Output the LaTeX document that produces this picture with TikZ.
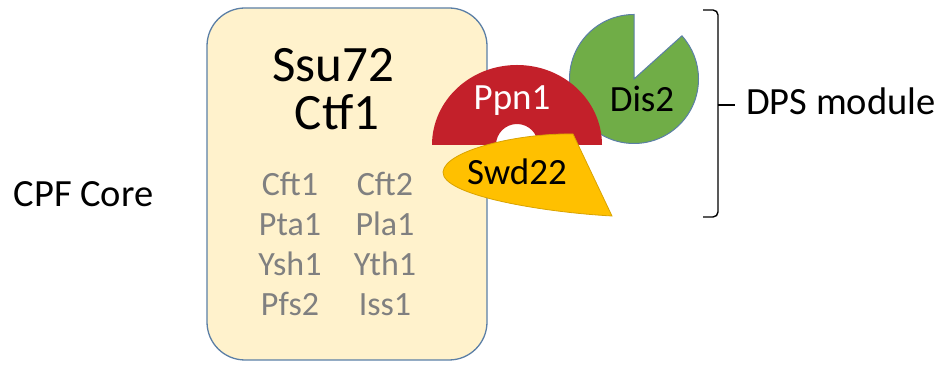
\documentclass[tikz,border=0pt]{standalone}
\usepackage{fontspec}
\setmainfont{Carlito}
\definecolor{corefill}{HTML}{FFF2CC}
\definecolor{outline}{HTML}{5B7FA6}
\definecolor{ppnred}{HTML}{C3202A}
\definecolor{disgreen}{HTML}{70AD47}
\definecolor{swdyellow}{HTML}{FFC000}
\definecolor{subgray}{HTML}{808080}
\tikzstyle{core}=[draw=outline,line width=1.3pt,fill=corefill,rounded corners=38pt]
\tikzstyle{bigname}=[anchor=base,font=\fontsize{51}{51}\selectfont]
\tikzstyle{subunit}=[anchor=base,text=subgray,font=\fontsize{34}{34}\selectfont]
\tikzstyle{sidelabel}=[anchor=base,font=\fontsize{38.5}{38.5}\selectfont]
\tikzstyle{protein}=[anchor=base,font=\fontsize{37}{37}\selectfont]
\tikzstyle{bracket}=[line width=1.4pt,rounded corners=5pt]

\begin{document}
\begin{tikzpicture}[x=1pt,y=1pt]
\useasboundingbox (0,0) rectangle (946,366);
% CPF core
\draw[core] (207,6) rectangle (487,358);
\node[bigname] (ssu) at (333,284) {Ssu72};
\node[bigname] (ctf) at (337,236) {Ctf1};
\node[subunit] (cft1) at (290,170) {Cft1};
\node[subunit] (cft2) at (385,170) {Cft2};
\node[subunit] (pta1) at (290,130) {Pta1};
\node[subunit] (pla1) at (385,130) {Pla1};
\node[subunit] (ysh1) at (290,90) {Ysh1};
\node[subunit] (yth1) at (385,90) {Yth1};
\node[subunit] (pfs2) at (290,50) {Pfs2};
\node[subunit] (iss1) at (385,50) {Iss1};
\node[sidelabel] (cpf) at (83.5,159) {CPF Core};
% DPS module
\draw[draw=outline,line width=1pt,fill=disgreen]
    (634,287) -- ++(90:64.5) arc[start angle=90,end angle=402,radius=64.5] -- cycle;
\node[protein] (dis2) at (642,254) {Dis2};
\fill[ppnred] (432,221) arc[start angle=180,end angle=0,x radius=85,y radius=80]
    -- (538,221) arc[start angle=0,end angle=180,radius=21] -- cycle;
\node[protein,text=white] (ppn1) at (512,256) {Ppn1};
\draw[draw=swdyellow!85!black,line width=0.8pt,fill=swdyellow]
    (573,232) .. controls (520,233) and (445,216) .. (443,194)
    .. controls (442,171) and (540,154) .. (612,150) -- cycle;
\node[protein] (swd22) at (517,181) {Swd22};
% bracket
\coordinate (bt) at (703,356);
\coordinate (bm) at (735,261);
\coordinate (bb) at (703,149);
\draw[bracket] (bt) -- (718,356) -- (718,261);
\draw[bracket] (718,261) -- (718,149) -- (bb);
\draw[line width=1.4pt] (718,261) -- (bm);
\node[sidelabel] (dps) at (841,251) {DPS module};
\end{tikzpicture}
\end{document}
